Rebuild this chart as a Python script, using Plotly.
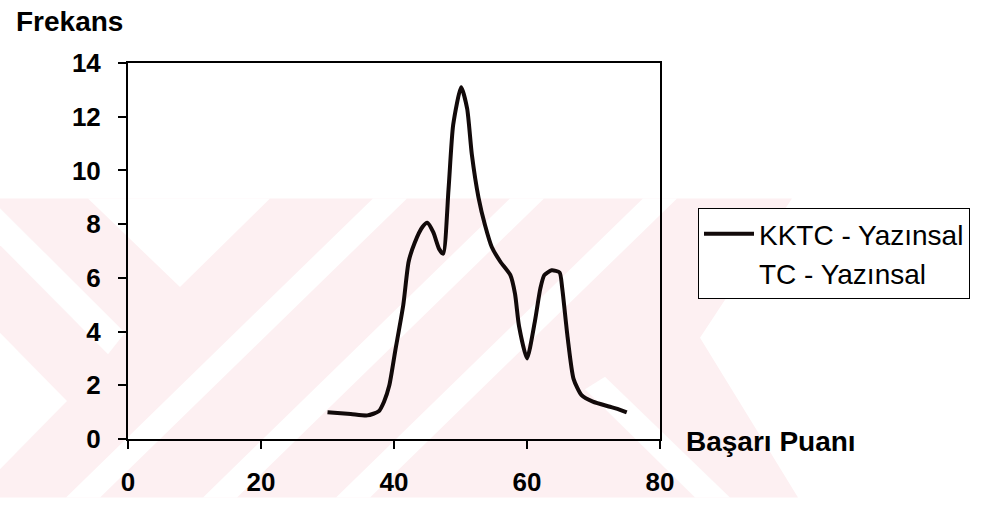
import plotly.graph_objects as go

# ---- data ----
puan = [30, 33.5, 36, 37.7, 38.5, 39.3, 40.2, 41.4, 42.2, 43.1, 44.3, 45, 45.9, 46.8, 47.4,
        48.2, 48.9, 50.1, 51.0, 51.7, 52.7, 53.7, 54.7, 56.0, 57.5, 58.2, 58.8, 60,
        61.2, 62.0, 62.6, 63.7, 64.9, 65.3, 66.1, 67.0, 68.2, 69.9, 72.3, 73.6, 75]
kktc = [1.0, 0.93, 0.88, 1.03, 1.39, 2.0, 3.3, 5.0, 6.6, 7.3, 7.9, 8.05, 7.7, 7.07, 6.9,
        9.3, 11.7, 13.1, 12.3, 10.6, 9.0, 7.95, 7.15, 6.6, 6.1, 5.4, 4.2, 3.0,
        4.4, 5.6, 6.1, 6.28, 6.2, 5.6, 3.8, 2.24, 1.63, 1.39, 1.21, 1.12, 0.99]
# the TC series draws nothing visible in the reference (legend entry only)
tc_puan = [None]
tc = [None]
x_ticks = [0, 20, 40, 60, 80]
y_ticks = [0, 2, 4, 6, 8, 10, 12, 14]

W, H = 985, 509
L, R, T, B = 128, 660, 63, 449


def P(px, py):
    return (px - L) / (R - L), (B - py) / (B - T)


def poly(pts):
    s = ""
    for i, (a, b) in enumerate(pts):
        xp, yp = P(a, b)
        s += ("M" if i == 0 else "L") + f"{xp:.4f},{yp:.4f} "
    return s + "Z"


PINK = "#fdf0f2"
shapes = [
    dict(type="path", path=poly([(0, 202), (792, 202), (700, 345), (798, 509), (0, 509)])),
]
for x0 in [373, 510, 643]:
    shapes.append(dict(type="path", path=poly([(x0, 202), (x0 + 34, 202), (x0 + 34 - 307, 509), (x0 - 307, 509)]), fillcolor="white"))
shapes.append(dict(type="path", path=poly([(88, 202), (270, 202), (180, 293)]), fillcolor="white"))
shapes.append(dict(type="path", path=poly([(0, 212), (0, 250), (108, 362), (125, 340)]), fillcolor="white"))
shapes.append(dict(type="path", path=poly([(0, 340), (67, 410), (0, 480)]), fillcolor="white"))
shapes.append(dict(type="path", path=poly([(585, 398), (605, 385), (730, 509), (695, 509)]), fillcolor="white"))
for s in shapes:
    s.setdefault("fillcolor", PINK)
    s.update(xref="paper", yref="paper", layer="below", line=dict(width=0))

fig = go.Figure()
fig.add_trace(go.Scatter(x=puan, y=kktc, mode="lines", name="KKTC - Yazınsal",
                         line=dict(color="#120a0a", width=4, shape="spline", smoothing=0.6)))
fig.add_trace(go.Scatter(x=tc_puan, y=tc, mode="lines", name="TC - Yazınsal",
                         line=dict(color="rgba(0,0,0,0)", width=4)))

axis_font = dict(family="Liberation Sans, Arial", size=26, color="black", weight="bold")
fig.update_layout(
    width=W, height=H,
    margin=dict(l=L, r=W - R, t=T, b=H - B),
    paper_bgcolor="white", plot_bgcolor="rgba(0,0,0,0)",
    shapes=shapes,
    showlegend=True,
    xaxis=dict(range=[0, 80], tickvals=x_ticks, showgrid=False, zeroline=False,
               showline=True, linecolor="black", linewidth=2, mirror=True,
               ticks="outside", ticklen=8, tickcolor="black", tickwidth=2,
               tickfont=axis_font, ticklabelstandoff=11),
    yaxis=dict(range=[0, 14], tickvals=y_ticks, showgrid=False, zeroline=False,
               showline=True, linecolor="black", linewidth=2, mirror=True,
               ticks="outside", ticklen=8, tickcolor="black", tickwidth=2,
               tickfont=axis_font, ticklabelstandoff=12),
    legend=dict(x=P(698, 0)[0], y=P(0, 212)[1], xanchor="left", yanchor="top",
                bgcolor="white", bordercolor="black", borderwidth=1,
                font=dict(family="Liberation Sans, Arial", size=28, color="black"),
                itemwidth=50, tracegroupgap=0),
    annotations=[
        dict(text="<b>Frekans</b>", xref="paper", yref="paper", x=P(14, 0)[0], y=P(0, 20)[1],
             xanchor="left", yanchor="middle", showarrow=False,
             font=dict(family="Liberation Sans, Arial", size=28, color="black")),
        dict(text="<b>Başarı Puanı</b>", xref="paper", yref="paper", x=P(684, 0)[0], y=P(0, 452)[1],
             xanchor="left", yanchor="middle", showarrow=False,
             font=dict(family="Liberation Sans, Arial", size=28, color="black")),
    ],
)
fig.write_html("out.html", config={"displayModeBar": False},
               post_script="document.body.style.margin='0';window.dispatchEvent(new Event('resize'));")
